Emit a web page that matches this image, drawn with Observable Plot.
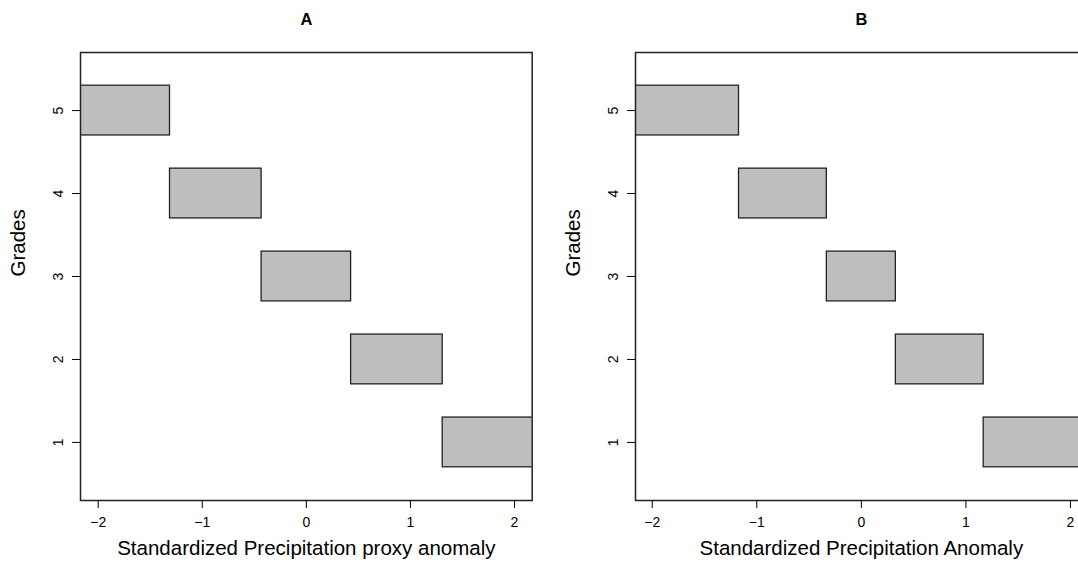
<!DOCTYPE html>
<html>
<head>
<meta charset="utf-8">
<script src="https://cdn.jsdelivr.net/npm/d3@7"></script>
<script src="https://cdn.jsdelivr.net/npm/@observablehq/plot@0.6"></script>
<style>
  html, body { margin: 0; padding: 0; background: #fff; }
  #wrap { width: 1078px; height: 574px; overflow: hidden; display: flex; flex-direction: row; }
  #wrap > svg { flex: none; }
</style>
</head>
<body>
<div id="wrap"></div>
<script>
// ---- data ----
const panelTitles = ["A", "B"];
const xLabels = ["Standardized Precipitation proxy anomaly", "Standardized Precipitation Anomaly"];
const yLabel = "Grades";
const grades = [5, 4, 3, 2, 1];
const proxyLower = [-2.5, -1.31, -0.43, 0.43, 1.31];
const proxyUpper = [-1.31, -0.43, 0.43, 1.31, 2.5];
const anomalyLower = [-2.5, -1.17, -0.33, 0.33, 1.17];
const anomalyUpper = [-1.17, -0.33, 0.33, 1.17, 2.5];
const xTicks = [-2, -1, 0, 1, 2];
const yTicks = [1, 2, 3, 4, 5];

const panels = [
  {title: panelTitles[0], xlabel: xLabels[0], lower: proxyLower, upper: proxyUpper, xdomain: [-2.17, 2.17]},
  {title: panelTitles[1], xlabel: xLabels[1], lower: anomalyLower, upper: anomalyUpper, xdomain: [-2.16, 2.16]}
];

const half = 0.3;
const font = "'Liberation Sans', Arial, Helvetica, sans-serif";

for (const p of panels) {
  const rows = grades.map((g, i) => ({g, lo: p.lower[i], hi: p.upper[i]}));
  const chart = Plot.plot({
    width: 555,
    height: 574,
    marginLeft: 80,
    marginRight: 23.3,
    marginTop: 52,
    marginBottom: 74,
    style: {fontFamily: font, background: "#fff", color: "#000", overflow: "visible"},
    x: {domain: p.xdomain},
    y: {domain: [0.3, 5.7]},
    marks: [
      Plot.rect(rows, {
        x1: "lo", x2: "hi",
        y1: d => d.g - half, y2: d => d.g + half,
        fill: "#bebebe", stroke: "#222", strokeWidth: 1.3, clip: true
      }),
      Plot.frame({stroke: "#222", strokeWidth: 1.5}),
      Plot.axisX({ticks: xTicks, tickSize: 8, tickPadding: 9, fontSize: 14, label: null, tickFormat: d => d3.format("d")(d).replace("-", "\u2212")}),
      Plot.axisY({ticks: yTicks, tickSize: 8, tickPadding: 10, tickRotate: -90, fontSize: 14, label: null, tickFormat: d3.format("d")}),
      Plot.text([p.xlabel], {frameAnchor: "bottom", dy: 48, fontSize: 20.5, lineAnchor: "middle", fill: "#000"}),
      Plot.text([yLabel], {frameAnchor: "left", dx: -62, rotate: -90, fontSize: 20.5, lineAnchor: "middle", fill: "#000"}),
      Plot.text([p.title], {frameAnchor: "top", dy: -33, fontSize: 16.5, fontWeight: "bold", lineAnchor: "middle", fill: "#000"})
    ]
  });
  document.getElementById("wrap").appendChild(chart);
}
</script>
</body>
</html>
